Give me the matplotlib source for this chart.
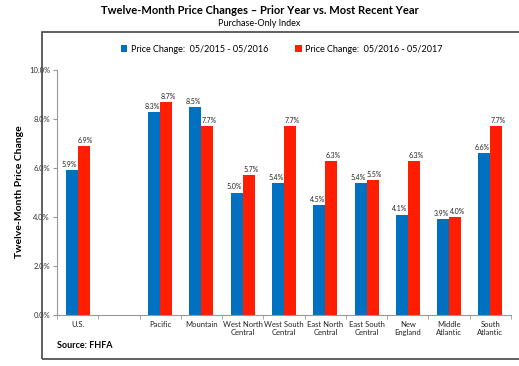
import matplotlib
matplotlib.use("Agg")
import matplotlib.pyplot as plt
from matplotlib.patches import Rectangle
import numpy as np

plt.rcParams['font.family'] = ['Lato', 'DejaVu Sans']

categories = ["U.S.", "", "Pacific", "Mountain", "West North\nCentral", "West South\nCentral",
              "East North\nCentral", "East South\nCentral", "New\nEngland", "Middle\nAtlantic", "South\nAtlantic"]
prior = [5.9, None, 8.3, 8.5, 5.0, 5.4, 4.5, 5.4, 4.1, 3.9, 6.6]
recent = [6.9, None, 8.7, 7.7, 5.7, 7.7, 6.3, 5.5, 6.3, 4.0, 7.7]
series_names = ["Price Change:  05/2015 - 05/2016", "Price Change:  05/2016 - 05/2017"]
blue = "#0070C0"
red = "#FF1E00"

fig = plt.figure(figsize=(5.19, 3.66), dpi=100)
fig.patch.set_facecolor("white")

# outer frame
fig.patches.append(Rectangle((42/519, 1-359/366), 1.0, (359-32)/366, transform=fig.transFigure,
                             fill=False, edgecolor="#444444", linewidth=1.2, zorder=0))

ax = fig.add_axes([57/519, 1-315/366, (511-57)/519, (315-70)/366])
x = np.arange(len(categories))
w = 0.29
for i in range(len(categories)):
    if prior[i] is None:
        continue
    ax.bar(x[i]-w/2, prior[i], w, color=blue, label=series_names[0] if i == 0 else None)
    ax.bar(x[i]+w/2, recent[i], w, color=red, label=series_names[1] if i == 0 else None)
    ax.annotate(f"{prior[i]:.1f}%", (x[i]-w/2, prior[i]), xytext=(-1.5, 1.5), textcoords="offset points",
                ha="center", va="bottom", fontsize=5, color="#222222")
    ax.annotate(f"{recent[i]:.1f}%", (x[i]+w/2, recent[i]), xytext=(1.5, 1.5), textcoords="offset points",
                ha="center", va="bottom", fontsize=5, color="#222222")

ax.set_xlim(-0.5, len(categories)-0.5)
ax.set_ylim(0, 10)
ax.set_yticks(np.arange(0, 10.01, 2))
ax.set_yticklabels([f"{v:.1f}%" for v in np.arange(0, 10.01, 2)], fontsize=5.5, color="#333333")
ax.set_xticks(x)
ax.set_xticklabels(categories, fontsize=5.5, color="#222222")
ax.set_xticks(np.arange(-0.5, len(categories)), minor=True)
ax.tick_params(axis="x", which="major", length=0, pad=4)
ax.tick_params(axis="x", which="minor", length=3, color="#999999")
ax.tick_params(axis="y", length=3, color="#999999", pad=2)
for s in ["top", "right"]:
    ax.spines[s].set_visible(False)
ax.spines["left"].set_color("#999999")
ax.spines["bottom"].set_color("#999999")

fig.text(20/519, 1-192/366, "Twelve-Month Price Change", rotation=90, ha="center", va="center",
         fontsize=7.5, fontweight="bold")
fig.text(0.5, 1-11/366, "Twelve-Month Price Changes \u2013 Prior Year vs. Most Recent Year",
         ha="center", va="center", fontsize=8, fontweight="bold")
fig.text(0.5, 1-23/366, "Purchase-Only Index", ha="center", va="center", fontsize=6.5)
fig.legend(loc="center", bbox_to_anchor=(282/519, 1-49/366), ncol=2, frameon=False,
           fontsize=6.5, handlelength=0.7, handleheight=0.7, columnspacing=3, handletextpad=0.4)
fig.text(57/519, 1-346/366, "Source: FHFA", ha="left", va="center", fontsize=6.5, fontweight="bold")

fig.savefig("out.png", dpi=100)
